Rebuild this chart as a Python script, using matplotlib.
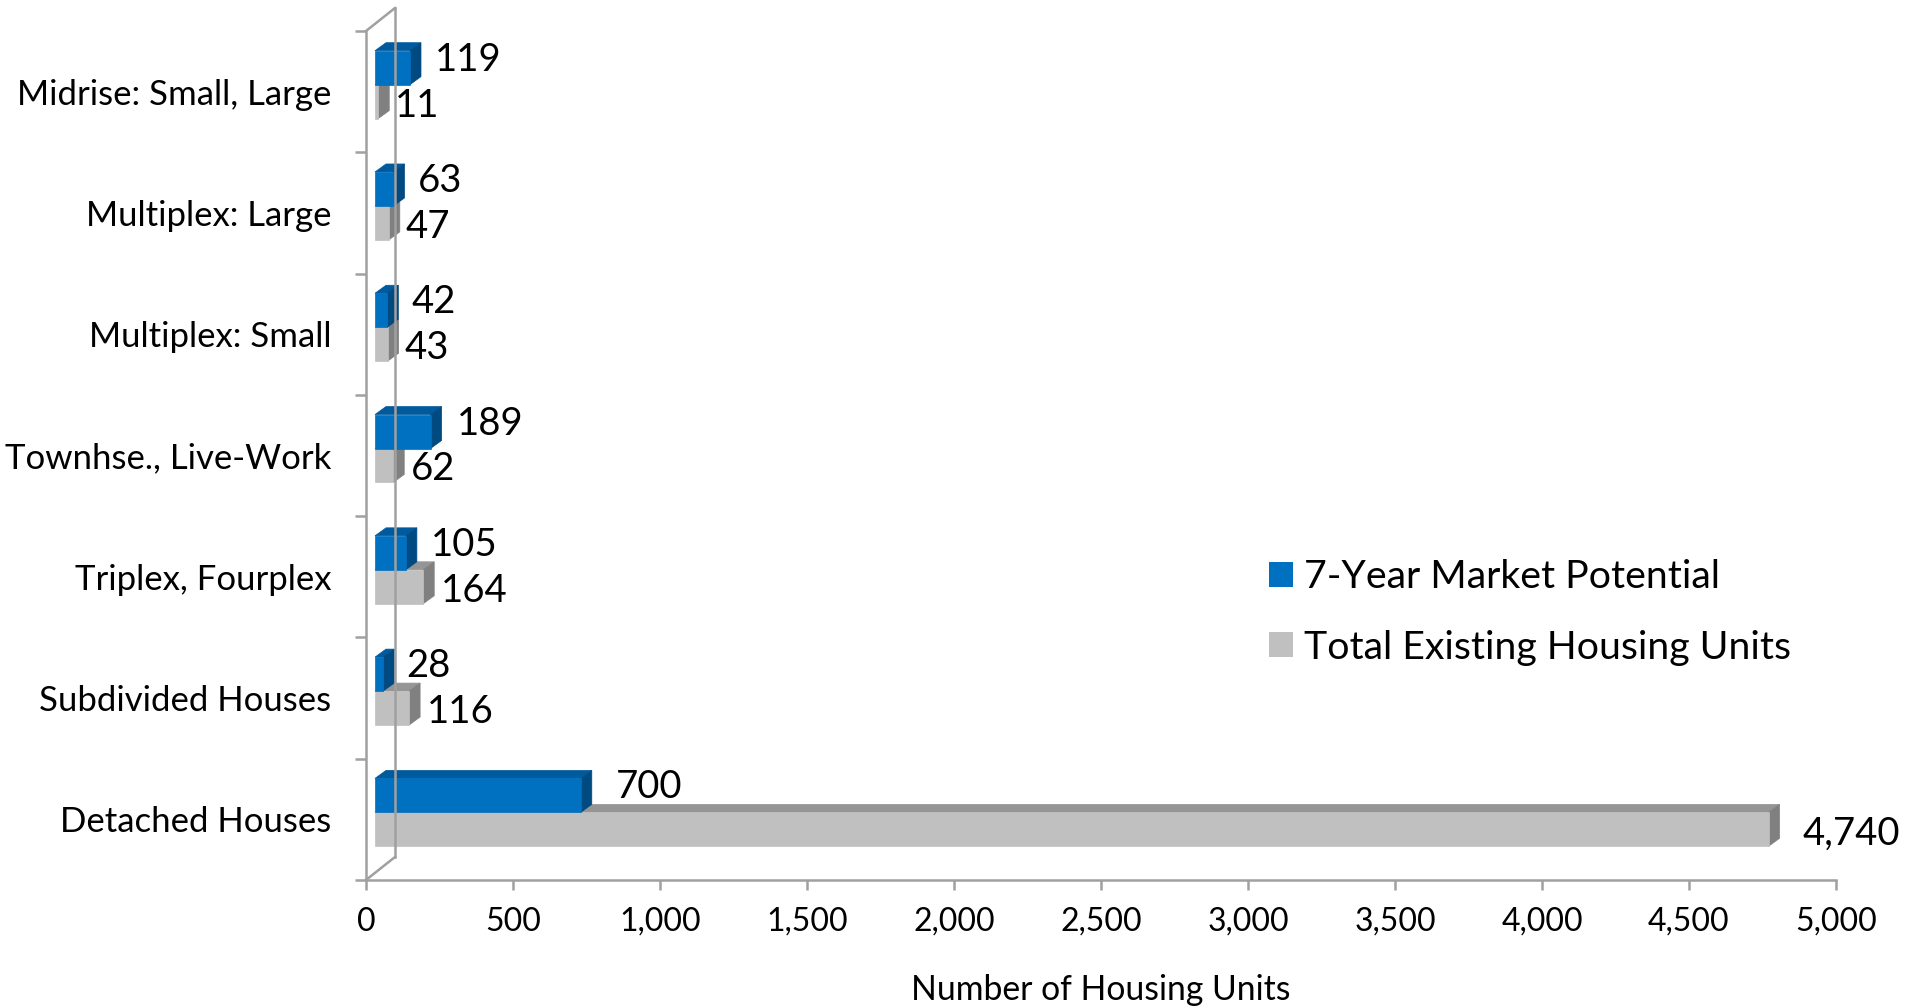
import matplotlib
matplotlib.use("Agg")
import numpy as np
import matplotlib.pyplot as plt
import matplotlib.transforms as mtransforms
from matplotlib.patches import Polygon, Patch
from matplotlib.lines import Line2D

categories = ["Detached Houses", "Subdivided Houses", "Triplex, Fourplex",
              "Townhse., Live-Work", "Multiplex: Small", "Multiplex: Large",
              "Midrise: Small, Large"]
market_potential = [700, 28, 105, 189, 42, 63, 119]
existing_units = [4740, 116, 164, 62, 43, 47, 11]
x_ticks = list(range(0, 5001, 500))
series_names = ["7-Year Market Potential", "Total Existing Housing Units"]

plt.rcParams['font.family'] = ['Lato', 'DejaVu Sans']

BLUE = ["#0070C0", "#005A9E", "#004A82"]   # front, top, side
GREY = ["#C0C0C0", "#959595", "#808080"]
AXIS = "#A0A0A0"

W, H, DPI = 1921, 1008, 100
fig = plt.figure(figsize=(W / DPI, H / DPI), dpi=DPI)
ax = fig.add_axes([366 / W, 128 / H, 1470 / W, 849 / H])
ax.set_xlim(0, 5000)
ax.set_ylim(-0.5, 6.5)

# pixel offsets for the fake 3-D look: gap to the bars, bar depth, back wall
GAP = np.array([9, 7])
DEPTH = np.array([11, 8])
WALL = np.array([29, 23])
bar_h = 0.28
ident = mtransforms.IdentityTransform()


def bar3d(value, y0, y1, colors, z):
    p0 = ax.transData.transform((0, y0)) + GAP
    p1 = ax.transData.transform((value, y1)) + GAP
    dx, dy = DEPTH
    front = [(p0[0], p0[1]), (p1[0], p0[1]), (p1[0], p1[1]), (p0[0], p1[1])]
    top = [(p0[0], p1[1]), (p1[0], p1[1]), (p1[0] + dx, p1[1] + dy), (p0[0] + dx, p1[1] + dy)]
    side = [(p1[0], p0[1]), (p1[0] + dx, p0[1] + dy), (p1[0] + dx, p1[1] + dy), (p1[0], p1[1])]
    for verts, c in zip([top, side, front], [colors[1], colors[2], colors[0]]):
        ax.add_patch(Polygon(verts, closed=True, facecolor=c, edgecolor=c, lw=0.5,
                             transform=ident, clip_on=False, zorder=z))


for i in range(len(categories)):
    bar3d(existing_units[i], i - bar_h, i, GREY, 3)
    bar3d(market_potential[i], i, i + bar_h, BLUE, 4)

# value labels
for i, (b, g) in enumerate(zip(market_potential, existing_units)):
    tb = mtransforms.offset_copy(ax.transData, fig=fig, units='dots',
                                 x=GAP[0] + DEPTH[0] + 12 + 0.017 * b, y=GAP[1] + 8)
    ax.text(b, i + bar_h / 2, f"{b:,}", transform=tb, ha='left', va='center',
            fontsize=27.5, zorder=6)
    tg = mtransforms.offset_copy(ax.transData, fig=fig, units='dots',
                                 x=GAP[0] + DEPTH[0] + 6 + 0.0036 * g, y=GAP[1] - 4)
    ax.text(g, i - bar_h / 2, f"{g:,}", transform=tg, ha='left', va='center',
            fontsize=27.5, zorder=6)

# back wall and floor edges
bl = ax.transAxes.transform((0, 0))
tl = ax.transAxes.transform((0, 1))
for a, b in [(bl, bl + WALL), (tl, tl + WALL), (bl + WALL, tl + WALL)]:
    fig.add_artist(Line2D([a[0], b[0]], [a[1], b[1]], color=AXIS, lw=1.8,
                          transform=ident, zorder=1))

for s in ["top", "right"]:
    ax.spines[s].set_visible(False)
for s in ["left", "bottom"]:
    ax.spines[s].set_color(AXIS)
    ax.spines[s].set_linewidth(1.8)

ax.set_xticks(x_ticks)
ax.set_xticklabels([f"{t:,}" for t in x_ticks], fontsize=23)
ax.tick_params(axis='x', length=7.2, width=1.8, color=AXIS, pad=12)
ax.set_yticks(range(len(categories)))
ax.set_yticklabels(categories, fontsize=25)
ax.set_yticks(np.arange(-0.5, len(categories), 1), minor=True)
ax.tick_params(axis='y', which='major', length=0, pad=25)
ax.tick_params(axis='y', which='minor', length=7.9, width=1.8, color=AXIS)
ax.set_xlabel("Number of Housing Units", fontsize=24.3, labelpad=27)
ax.patch.set_visible(False)

handles = [Patch(facecolor=BLUE[0]), Patch(facecolor=GREY[0])]
fig.legend(handles, series_names, loc='upper left',
           bbox_to_anchor=(1269 / W, 1 - 559 / H), frameon=False, fontsize=28.3,
           handlelength=0.6, handleheight=0.6, handletextpad=0.28,
           labelspacing=0.88, borderpad=0, borderaxespad=0)

fig.savefig("out.png", dpi=DPI)
